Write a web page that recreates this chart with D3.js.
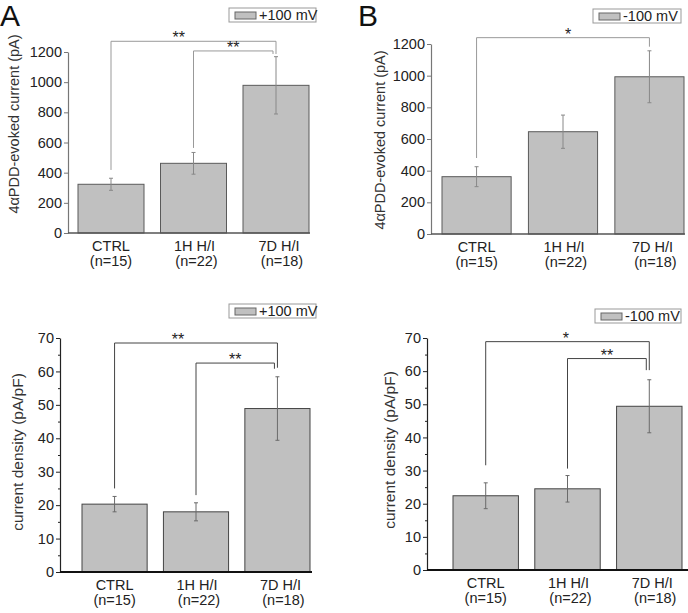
<!DOCTYPE html>
<html>
<head>
<meta charset="utf-8">
<script src="https://cdn.jsdelivr.net/npm/d3@7"></script>
<style>
  body { margin: 0; background: white; }
  text { font-family: "Liberation Sans", Arial, sans-serif; }
</style>
</head>
<body>
<div id="chart"></div>
<script>
// groups + n per group
const categories = ['CTRL', '1H H/I', '7D H/I']
const nLabels = ['(n=15)', '(n=22)', '(n=18)']

// 4aPDD-evoked current (pA)
const currentPos = [323, 462, 979]
const currentPosErr = [40, 72, 190]
const currentNeg = [362, 646, 993]
const currentNegErr = [63, 105, 164]

// current density (pA/pF)
const densityPos = [20.3, 18.0, 48.9]
const densityPosErr = [2.3, 2.7, 9.5]
const densityNeg = [22.4, 24.5, 49.4]
const densityNegErr = [3.9, 4.0, 8.0]

const currentTicks = [0, 200, 400, 600, 800, 1000, 1200]
const densityTicks = [0, 10, 20, 30, 40, 50, 60, 70]
const densityMinor = [5, 15, 25, 35, 45, 55, 65]

// significance brackets: from/to group, level and leg ends in data units
const bracketsA = [
  { from: 0, to: 2, level: 1271, left: 418, right: 1187, label: '**', t: 0.41 },
  { from: 1, to: 2, level: 1207, left: 564, right: 1187, label: '**', t: 0.5 }
]
const bracketsB = [
  { from: 0, to: 2, level: 1240, left: 480, right: 1183, label: '*', t: 0.53 }
]
const bracketsC = [
  { from: 0, to: 2, level: 68.5, left: 25.0, right: 61.1, label: '**', t: 0.39 },
  { from: 1, to: 2, level: 62.5, left: 23.0, right: 60.8, label: '**', t: 0.5 }
]
const bracketsD = [
  { from: 0, to: 2, level: 68.9, left: 31.6, right: 60.3, label: '*', t: 0.49 },
  { from: 1, to: 2, level: 63.8, left: 30.6, right: 60.3, label: '**', t: 0.5 }
]

const svg = d3.select('#chart').append('svg')
  .attr('width', 688)
  .attr('height', 613)
  .style('background', 'white')

function drawPanel(p) {
  const g = svg.append('g')
  const dark = p.dark

  const x = d3.scaleBand()
    .domain(categories)
    .range([p.barL, p.barR])
    .paddingInner(0.2)
    .paddingOuter(0)

  const y = d3.scaleLinear()
    .domain([0, p.max])
    .range([p.y0, p.yTop])

  const cx = i => x(categories[i]) + x.bandwidth() / 2

  // bars
  g.selectAll('.bar')
    .data(p.values)
    .enter()
    .append('rect')
    .attr('x', (d, i) => x(categories[i]))
    .attr('y', d => y(d))
    .attr('width', x.bandwidth())
    .attr('height', d => p.y0 - y(d))
    .attr('fill', '#c0c0c0')
    .attr('stroke', dark ? '#444' : '#5a5a5a')
    .attr('stroke-width', 1)

  // error bars
  const errColor = dark ? '#6a6a6a' : '#888'
  p.values.forEach((v, i) => {
    const e = p.errors[i]
    g.append('line')
      .attr('x1', cx(i)).attr('x2', cx(i))
      .attr('y1', y(v + e)).attr('y2', y(v - e))
      .attr('stroke', errColor)
    ;[v + e, v - e].forEach(val => {
      g.append('line')
        .attr('x1', cx(i) - 2).attr('x2', cx(i) + 2)
        .attr('y1', y(val)).attr('y2', y(val))
        .attr('stroke', errColor)
    })
  })

  // y axis
  const yAxis = d3.axisLeft(y)
    .tickValues(p.ticks)
    .tickFormat(d3.format('d'))
    .tickSize(4)
    .tickPadding(2)
    .tickSizeOuter(0)
  const ay = g.append('g')
    .attr('transform', `translate(${p.axisX},0)`)
    .call(yAxis)
  ay.select('.domain').attr('stroke', dark ? '#222' : '#777').attr('stroke-width', 1.2)
  ay.selectAll('.tick line').attr('stroke', dark ? '#222' : '#777')
  ay.selectAll('.tick text')
    .attr('font-size', 14.5)
    .attr('fill', '#222')
    .style('font-family', '"Liberation Sans", Arial, sans-serif')

  if (p.minor) {
    g.append('g')
      .attr('transform', `translate(${p.axisX},0)`)
      .call(d3.axisLeft(y).tickValues(p.minor).tickSize(2).tickFormat(''))
      .call(s => s.select('.domain').remove())
      .selectAll('.tick line').attr('stroke', '#222')
  }

  // x axis line
  g.append('line')
    .attr('x1', p.axisX).attr('x2', p.axisEnd)
    .attr('y1', p.y0).attr('y2', p.y0)
    .attr('stroke', dark ? '#111' : '#555')
    .attr('stroke-width', dark ? 1.8 : 1.5)

  // category labels
  g.selectAll('.cat')
    .data(categories)
    .enter()
    .append('text')
    .attr('x', (d, i) => cx(i) + [0, 1, 3][i])
    .attr('y', p.y0 + 18)
    .attr('text-anchor', 'middle')
    .attr('font-size', 14.5)
    .attr('fill', '#222')
    .text(d => d)
  g.selectAll('.nlab')
    .data(nLabels)
    .enter()
    .append('text')
    .attr('x', (d, i) => cx(i) + [0, 3, 6][i])
    .attr('y', p.y0 + 33)
    .attr('text-anchor', 'middle')
    .attr('font-size', 14.5)
    .attr('fill', '#222')
    .text(d => d)

  // brackets
  const brColor = dark ? '#444' : '#999'
  p.brackets.forEach((b, k) => {
    const x1 = cx(b.from)
    const x2 = cx(b.to) - k * 3
    g.append('path')
      .attr('d', `M${x1},${y(b.left)}V${y(b.level)}H${x2}V${y(b.right)}`)
      .attr('fill', 'none')
      .attr('stroke', brColor)
      .attr('stroke-width', 1)
    g.append('text')
      .attr('x', x1 + (x2 - x1) * b.t)
      .attr('y', y(b.level) + 2)
      .attr('text-anchor', 'middle')
      .attr('font-size', 16)
      .attr('fill', '#222')
      .text(b.label)
  })

  // y title
  g.append('text')
    .attr('transform', `translate(${p.titleX},${p.titleY}) rotate(-90)`)
    .attr('text-anchor', 'middle')
    .attr('font-size', p.titleSize)
    .attr('fill', '#333')
    .text(p.title)

  // legend
  const lg = g.append('g').attr('transform', `translate(${p.legX},${p.legY})`)
  lg.append('rect')
    .attr('width', p.legW).attr('height', 14)
    .attr('fill', 'white').attr('stroke', '#999')
  lg.append('rect')
    .attr('x', 6).attr('y', 4).attr('width', 21).attr('height', 7)
    .attr('fill', '#c0c0c0').attr('stroke', '#666')
  lg.append('text')
    .attr('x', 30).attr('y', 12)
    .attr('font-size', 14.5)
    .attr('fill', '#222')
    .text(p.legend)

  if (p.letter) {
    g.append('text')
      .attr('x', p.letterX).attr('y', 26)
      .attr('font-size', 30)
      .attr('fill', '#111')
      .text(p.letter)
  }
}

drawPanel({
  values: currentPos, errors: currentPosErr, ticks: currentTicks, max: 1200,
  brackets: bracketsA, legend: '+100 mV', letter: 'A', letterX: 0,
  title: '4\u03b1PDD-evoked current (pA)', titleSize: 14.5, titleX: 19, titleY: 124,
  axisX: 68, axisEnd: 310, barL: 78, barR: 309, y0: 233, yTop: 52,
  legX: 229, legY: 8, legW: 87, dark: false
})
drawPanel({
  values: currentNeg, errors: currentNegErr, ticks: currentTicks, max: 1200,
  brackets: bracketsB, legend: '-100 mV', letter: 'B', letterX: 358,
  title: '4\u03b1PDD-evoked current (pA)', titleSize: 14.5, titleX: 385, titleY: 140,
  axisX: 431, axisEnd: 685, barL: 442, barR: 684, y0: 234, yTop: 44,
  legX: 593, legY: 9, legW: 88, dark: false
})
drawPanel({
  values: densityPos, errors: densityPosErr, ticks: densityTicks, minor: densityMinor, max: 70,
  brackets: bracketsC, legend: '+100 mV',
  title: 'current density (pA/pF)', titleSize: 15.5, titleX: 23, titleY: 452,
  axisX: 60, axisEnd: 312, barL: 82, barR: 310, y0: 572, yTop: 338,
  legX: 229, legY: 304, legW: 87, dark: true
})
drawPanel({
  values: densityNeg, errors: densityNegErr, ticks: densityTicks, minor: densityMinor, max: 70,
  brackets: bracketsD, legend: '-100 mV',
  title: 'current density (pA/pF)', titleSize: 15.5, titleX: 395, titleY: 450,
  axisX: 427, axisEnd: 688, barL: 453, barR: 682, y0: 570, yTop: 338,
  legX: 595, legY: 309, legW: 86, dark: true
})
</script>
</body>
</html>
